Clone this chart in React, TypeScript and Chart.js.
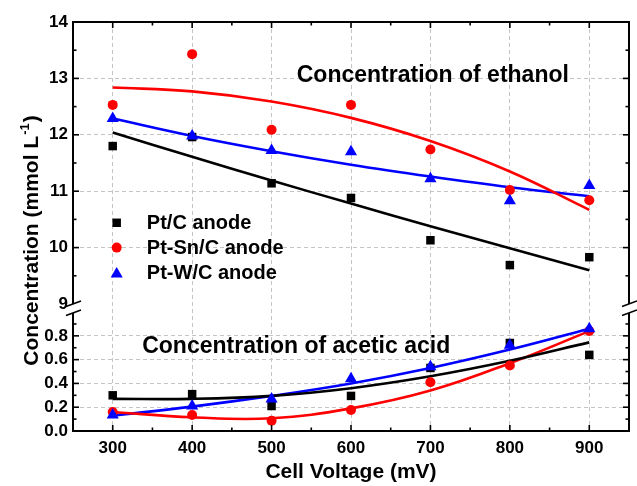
import React, { useEffect, useRef } from 'react';
import { Chart, registerables } from 'chart.js';

Chart.register(...registerables);

// ---------- data ----------
const voltages = [300, 400, 500, 600, 700, 800, 900];

const ethanolPtC = [11.8, 11.96, 11.14, 10.88, 10.13, 9.69, 9.83];
const ethanolPtSnC = [12.53, 13.43, 12.09, 12.53, 11.74, 11.02, 10.84];
const ethanolPtWC = [12.29, 11.98, 11.72, 11.7, 11.22, 10.83, 11.1];

const ethanolFitPtC = [12.04, 11.61, 11.19, 10.78, 10.38, 9.99, 9.6];
const ethanolFitPtSnC = [12.84, 12.77, 12.59, 12.3, 11.89, 11.35, 10.67];
const ethanolFitPtWC = [12.29, 11.98, 11.71, 11.47, 11.26, 11.07, 10.91];

const aceticPtC = [0.3, 0.31, 0.21, 0.295, 0.53, 0.74, 0.64];
const aceticPtSnC = [0.16, 0.135, 0.087, 0.177, 0.41, 0.55, 0.84];
const aceticPtWC = [0.135, 0.21, 0.27, 0.44, 0.54, 0.72, 0.86];

const aceticFitPtC = [0.27, 0.27, 0.295, 0.36, 0.46, 0.59, 0.745];
const aceticFitPtSnC = [0.16, 0.115, 0.107, 0.19, 0.34, 0.57, 0.84];
const aceticFitPtWC = [0.13, 0.205, 0.295, 0.4, 0.53, 0.685, 0.86];

const xTicks = [300, 400, 500, 600, 700, 800, 900];
const xMinorTicks = [350, 450, 550, 650, 750, 850];
const ethanolTicks = [9, 10, 11, 12, 13, 14];
const ethanolMinorTicks = [9.5, 10.5, 11.5, 12.5, 13.5];
const aceticTicks = [0, 0.2, 0.4, 0.6, 0.8];
const aceticMinorTicks = [0.1, 0.3, 0.5, 0.7, 0.9];

const seriesNames = ['Pt/C anode', 'Pt-Sn/C anode', 'Pt-W/C anode'];
const seriesColors = ['#000000', '#ff0000', '#0000ff'];
const seriesMarkers = ['rect', 'circle', 'triangle'];
const seriesRadius = [6, 5, 7];

const ethanolLabel = 'Concentration of ethanol';
const aceticLabel = 'Concentration of acetic acid';
const xTitle = 'Cell Voltage (mV)';
const yTitleMain = 'Concentration (mmol L';
const yTitleSup = '-1';
const yTitleEnd = ')';

const FONT = '"Liberation Sans", Arial, Helvetica, sans-serif';
const GRID = '#c4c4c4';

const ethanolPoints = [ethanolPtC, ethanolPtSnC, ethanolPtWC];
const ethanolFits = [ethanolFitPtC, ethanolFitPtSnC, ethanolFitPtWC];
const aceticPoints = [aceticPtC, aceticPtSnC, aceticPtWC];
const aceticFits = [aceticFitPtC, aceticFitPtSnC, aceticFitPtWC];

const toXY = (ys: number[]) => voltages.map((x, i) => ({ x, y: ys[i] }));

function drawMarker(ctx: CanvasRenderingContext2D, style: string, x: number, y: number, r: number, color: string) {
  ctx.save();
  ctx.fillStyle = color;
  ctx.beginPath();
  if (style === 'rect') {
    const s = r * Math.SQRT1_2;
    ctx.rect(x - s, y - s, 2 * s, 2 * s);
  } else if (style === 'circle') {
    ctx.arc(x, y, r, 0, Math.PI * 2);
  } else {
    const w = r * Math.sin(Math.PI / 3);
    ctx.moveTo(x, y - r);
    ctx.lineTo(x + w, y + r / 2);
    ctx.lineTo(x - w, y + r / 2);
    ctx.closePath();
  }
  ctx.fill();
  ctx.restore();
}

const decorPlugin = {
  id: 'decor',
  afterDraw(chart: any) {
    const ctx: CanvasRenderingContext2D = chart.ctx;
    const { left, right, top, bottom } = chart.chartArea;
    const xs = chart.scales.x;
    const yt = chart.scales.yTop;
    const yb = chart.scales.yBot;
    const line = (x1: number, y1: number, x2: number, y2: number) => {
      ctx.beginPath();
      ctx.moveTo(x1, y1);
      ctx.lineTo(x2, y2);
      ctx.stroke();
    };
    const br1 = yt.getPixelForValue(ethanolTicks[0]);
    const br2 = br1 + 9;

    ctx.save();
    ctx.strokeStyle = '#000';
    ctx.lineWidth = 2;
    ctx.lineCap = 'butt';
    line(left - 1, top, right + 1, top);
    line(left - 1, bottom, right + 1, bottom);
    for (const xx of [left, right]) {
      line(xx, top, xx, br1);
      line(xx, br2, xx, bottom);
    }
    // break marks
    ctx.lineWidth = 1.6;
    for (const xx of [left, right]) {
      for (const yy of [br1, br2]) {
        line(xx - 7, yy + 2.5, xx + 8, yy - 3);
      }
    }
    // inward tick marks
    ctx.lineWidth = 1.6;
    const majorLen = 6;
    const minorLen = 3.5;
    const yTicks = (scale: any, vals: number[], len: number) => {
      for (const v of vals) {
        const p = scale.getPixelForValue(v);
        line(left, p, left + len, p);
        line(right, p, right - len, p);
      }
    };
    yTicks(yt, ethanolTicks.filter((v) => v !== ethanolTicks[0]), majorLen);
    yTicks(yt, ethanolMinorTicks, minorLen);
    yTicks(yb, aceticTicks, majorLen);
    yTicks(yb, aceticMinorTicks, minorLen);
    for (const v of xTicks) {
      const p = xs.getPixelForValue(v);
      line(p, bottom, p, bottom - majorLen);
      line(p, top, p, top + majorLen);
    }
    for (const v of xMinorTicks) {
      const p = xs.getPixelForValue(v);
      line(p, bottom, p, bottom - minorLen);
      line(p, top, p, top + minorLen);
    }

    // annotations
    ctx.fillStyle = '#000';
    ctx.font = `bold 23px ${FONT}`;
    ctx.textAlign = 'center';
    ctx.textBaseline = 'alphabetic';
    ctx.fillText(ethanolLabel, xs.getPixelForValue(703), yt.getPixelForValue(12.945));
    ctx.fillText(aceticLabel, xs.getPixelForValue(531), yb.getPixelForValue(0.657));

    // legend
    const legendRows = [10.44, 10.0, 9.56];
    ctx.font = `bold 20px ${FONT}`;
    ctx.textAlign = 'left';
    ctx.textBaseline = 'middle';
    for (let i = 0; i < seriesNames.length; i++) {
      const yy = yt.getPixelForValue(legendRows[i]);
      drawMarker(ctx, seriesMarkers[i], xs.getPixelForValue(305), yy + (i === 2 ? 1.5 : 0), seriesRadius[i], seriesColors[i]);
      ctx.fillStyle = '#000';
      ctx.fillText(seriesNames[i], xs.getPixelForValue(343), yy + 1);
    }

    // y title with superscript
    ctx.save();
    const cx = left - 35;
    const cy = (top + bottom) / 2 + 15;
    ctx.translate(cx, cy);
    ctx.rotate(-Math.PI / 2);
    ctx.textBaseline = 'alphabetic';
    ctx.textAlign = 'left';
    ctx.font = `bold 21px ${FONT}`;
    const w1 = ctx.measureText(yTitleMain).width;
    const w3 = ctx.measureText(yTitleEnd).width;
    ctx.font = `bold 13px ${FONT}`;
    const w2 = ctx.measureText(yTitleSup).width;
    const start = -(w1 + w2 + w3) / 2;
    ctx.font = `bold 21px ${FONT}`;
    ctx.fillText(yTitleMain, start, 0);
    ctx.font = `bold 13px ${FONT}`;
    ctx.fillText(yTitleSup, start + w1 + 1, -9);
    ctx.font = `bold 21px ${FONT}`;
    ctx.fillText(yTitleEnd, start + w1 + w2 + 2, 0);
    ctx.restore();

    ctx.restore();
  },
};

export default function App() {
  const canvasRef = useRef<HTMLCanvasElement | null>(null);

  useEffect(() => {
    document.body.style.margin = '0';
    const canvas = canvasRef.current;
    if (!canvas) return;

    const datasets: any[] = [];
    for (let s = 0; s < 3; s++) {
      datasets.push({
        type: 'line',
        data: toXY(ethanolFits[s]),
        yAxisID: 'yTop',
        xAxisID: 'x',
        borderColor: seriesColors[s],
        borderWidth: 2.6,
        pointRadius: 0,
        tension: 0.4,
        fill: false,
        order: 10,
      });
      datasets.push({
        type: 'line',
        data: toXY(aceticFits[s]),
        yAxisID: 'yBot',
        xAxisID: 'x',
        borderColor: seriesColors[s],
        borderWidth: 2.6,
        pointRadius: 0,
        tension: 0.4,
        fill: false,
        order: 10,
      });
    }
    for (let s = 0; s < 3; s++) {
      for (const [vals, axis] of [
        [ethanolPoints[s], 'yTop'],
        [aceticPoints[s], 'yBot'],
      ] as [number[], string][]) {
        datasets.push({
          type: 'scatter',
          data: toXY(vals),
          yAxisID: axis,
          xAxisID: 'x',
          showLine: false,
          pointStyle: seriesMarkers[s],
          pointRadius: seriesRadius[s],
          pointHoverRadius: seriesRadius[s],
          backgroundColor: seriesColors[s],
          borderColor: seriesColors[s],
          pointBorderWidth: 0,
          borderWidth: 0,
          order: 3 - s,
        });
      }
    }

    const tickFont = { family: FONT, size: 17, weight: 'bold' as const };

    const chart = new Chart(canvas, {
      type: 'scatter',
      data: { datasets },
      plugins: [decorPlugin],
      options: {
        animation: false,
        responsive: false,
        maintainAspectRatio: false,
        events: [],
        layout: { padding: { left: 0, right: 8, top: 22, bottom: 0 } },
        plugins: {
          legend: { display: false },
          tooltip: { enabled: false },
          title: { display: false },
        },
        scales: {
          x: {
            type: 'linear',
            position: 'bottom',
            min: 250,
            max: 950,
            afterBuildTicks: (scale: any) => {
              scale.ticks = xTicks.map((v) => ({ value: v }));
            },
            afterFit: (scale: any) => {
              scale.height = 55;
            },
            ticks: {
              font: tickFont,
              color: '#000',
              padding: 7,
              autoSkip: false,
              maxRotation: 0,
              callback: (v: any) => String(v),
            },
            grid: { color: GRID, lineWidth: 1, drawTicks: false },
            border: { display: false, dash: [4, 3] },
            title: {
              display: true,
              text: xTitle,
              color: '#000',
              font: { family: FONT, size: 21, weight: 'bold' },
              padding: { top: 0, bottom: 1 },
            },
          },
          yBot: {
            type: 'linear',
            position: 'left',
            stack: 'conc',
            stackWeight: 113,
            min: 0,
            max: 0.95,
            afterBuildTicks: (scale: any) => {
              scale.ticks = aceticTicks.map((v) => ({ value: v }));
            },
            afterFit: (scale: any) => {
              scale.width = 73;
            },
            ticks: {
              font: tickFont,
              color: '#000',
              padding: 5,
              autoSkip: false,
              callback: (v: any) => Number(v).toFixed(1),
            },
            grid: {
              color: (c: any) => (c.tick && c.tick.value === 0 ? 'rgba(0,0,0,0)' : GRID),
              lineWidth: 1,
              drawTicks: false,
            },
            border: { display: false, dash: [4, 3] },
          },
          yGap: {
            type: 'linear',
            position: 'left',
            stack: 'conc',
            stackWeight: 14,
            min: 0,
            max: 1,
            afterBuildTicks: (scale: any) => {
              scale.ticks = [];
            },
            afterFit: (scale: any) => {
              scale.width = 73;
            },
            ticks: { display: false },
            grid: { display: false },
            border: { display: false },
          },
          yTop: {
            type: 'linear',
            position: 'left',
            stack: 'conc',
            stackWeight: 282,
            min: 9,
            max: 14,
            afterBuildTicks: (scale: any) => {
              scale.ticks = ethanolTicks.map((v) => ({ value: v }));
            },
            afterFit: (scale: any) => {
              scale.width = 73;
            },
            ticks: {
              font: tickFont,
              color: '#000',
              padding: 5,
              autoSkip: false,
              callback: (v: any) => String(v),
            },
            grid: {
              color: (c: any) =>
                c.tick && (c.tick.value === 9 || c.tick.value === 14) ? 'rgba(0,0,0,0)' : GRID,
              lineWidth: 1,
              drawTicks: false,
            },
            border: { display: false, dash: [4, 3] },
          },
        },
      } as any,
    });

    return () => {
      chart.destroy();
    };
  }, []);

  return (
    <div style={{ width: 637, height: 486, background: '#fff' }}>
      <canvas ref={canvasRef} width={637} height={486} style={{ display: 'block' }} />
    </div>
  );
}
